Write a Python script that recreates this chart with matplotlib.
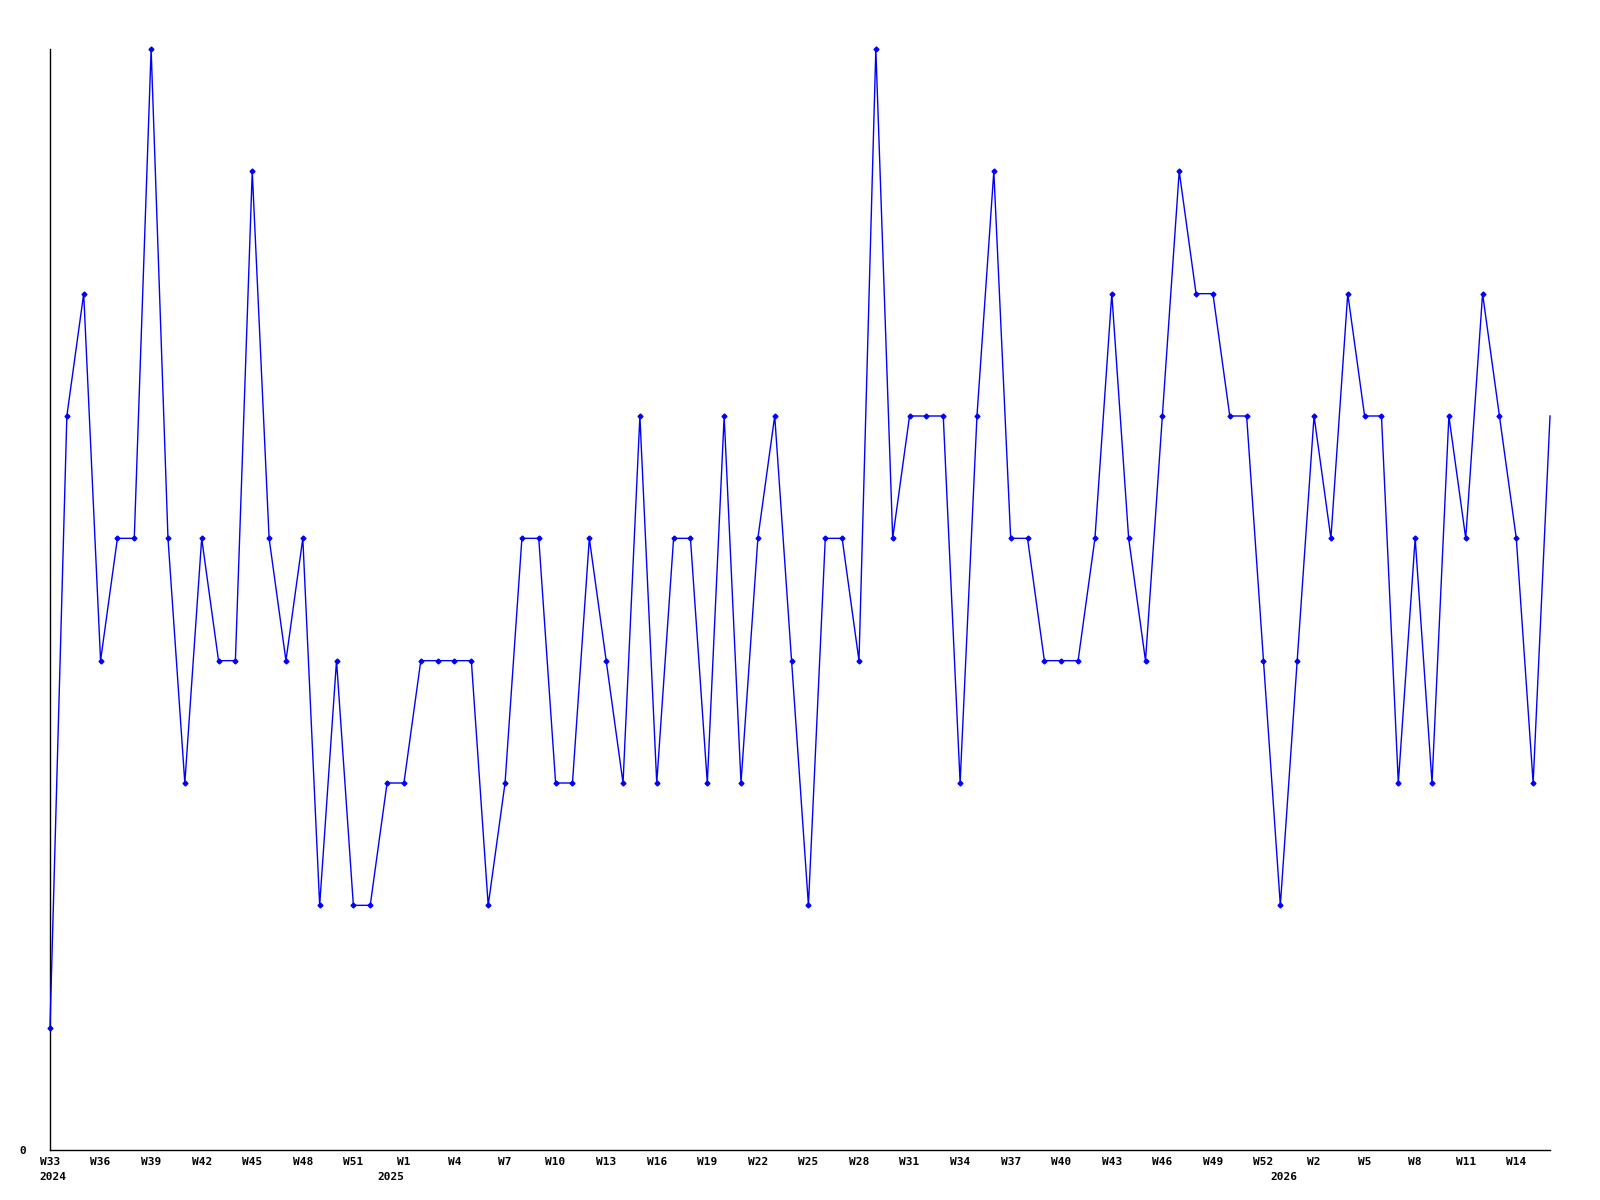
import numpy as np
import matplotlib
matplotlib.use("Agg")
import matplotlib.pyplot as plt

# weekly values, W33 2024 .. W16 2026
values = [1, 6, 7, 4, 5, 5, 9, 5, 3, 5,
          4, 4, 8, 5, 4, 5, 2, 4, 2, 2,
          3, 3, 4, 4, 4, 4, 2, 3, 5, 5,
          3, 3, 5, 4, 3, 6, 3, 5, 5, 3,
          6, 3, 5, 6, 4, 2, 5, 5, 4, 9,
          5, 6, 6, 6, 3, 6, 8, 5, 5, 4,
          4, 4, 5, 7, 5, 4, 6, 8, 7, 7,
          6, 6, 4, 2, 4, 6, 5, 7, 6, 6,
          3, 5, 3, 6, 5, 7, 6, 5, 3, 6]

week_labels = ["W33", "W36", "W39", "W42", "W45", "W48", "W51",
               "W1", "W4", "W7", "W10", "W13", "W16", "W19", "W22", "W25",
               "W28", "W31", "W34", "W37", "W40", "W43", "W46", "W49", "W52",
               "W2", "W5", "W8", "W11", "W14"]
week_pos = [0, 3, 6, 9, 12, 15, 18,
            21, 24, 27, 30, 33, 36, 39, 42, 45,
            48, 51, 54, 57, 60, 63, 66, 69, 72,
            75, 78, 81, 84, 87]
years = ["2024", "2025", "2026"]
year_pos = [0.2, 20.2, 73.2]

x = np.arange(len(values))

fig = plt.figure(figsize=(16, 12), dpi=100)
ax = fig.add_axes([50 / 1600, 1 - 1150 / 1200, 1500 / 1600, 1101 / 1200])

ax.plot(x, values, color="#0000ff", lw=1, clip_on=False, zorder=3)
ax.plot(x[:-1], values[:-1], ls="none", color="#0000ff", marker="D",
        markersize=2.5, clip_on=False, zorder=4)

ax.set_xlim(0, len(values) - 1)
ax.set_ylim(0, 9)

for s in ["top", "right"]:
    ax.spines[s].set_visible(False)
for s in ["left", "bottom"]:
    ax.spines[s].set_linewidth(1)
    ax.spines[s].set_color("black")

font = dict(family="DejaVu Sans Mono", fontweight="bold", fontsize=8)
ax.set_yticks([0])
ax.set_yticklabels(["0"], **font)
ax.set_xticks(week_pos)
ax.set_xticklabels(week_labels, **font)
ax.tick_params(length=0, pad=5)
ax.tick_params(axis="y", pad=17)

for yr, p in zip(years, year_pos):
    ax.annotate(yr, xy=(p, 0), xycoords="data", xytext=(0, -27),
                textcoords="offset pixels", ha="center", va="center", **font)

fig.savefig("out.png", dpi=100)
